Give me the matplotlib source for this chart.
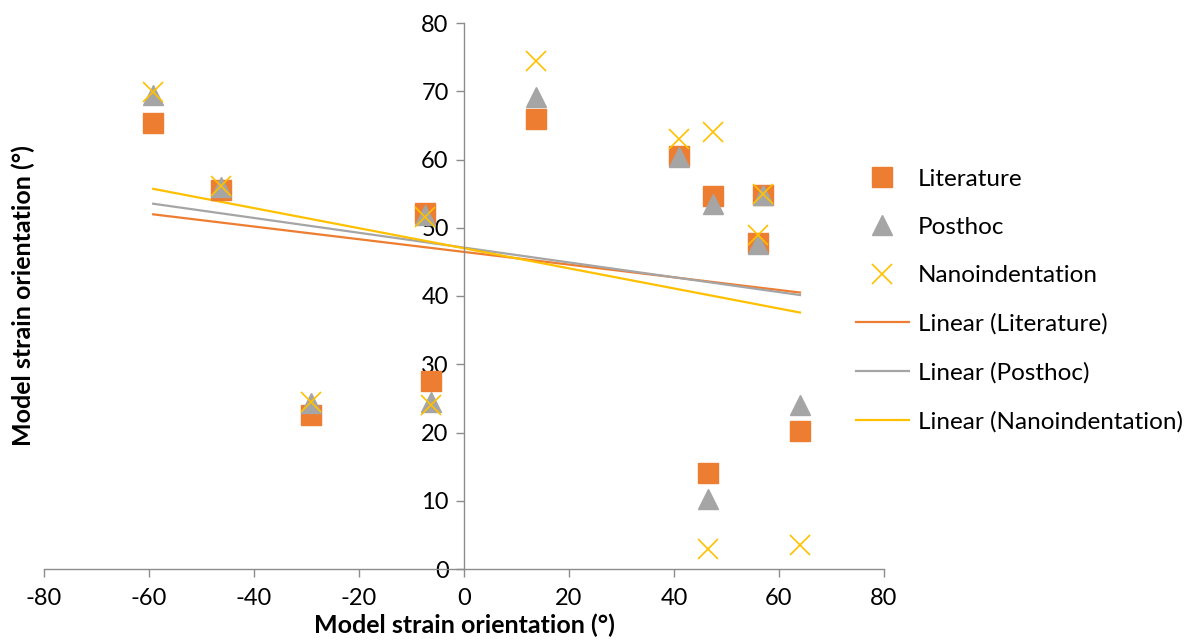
import numpy as np
import matplotlib
matplotlib.use("Agg")
from matplotlib import pyplot as plt

# strain orientation for each sample (shared by all three series)
model_x = [-59.2, -46.2, -29.1, -7.4, -6.3, 13.8, 41.0, 47.4, 57.0, 56.0, 46.5, 64.0]
literature = [65.3, 55.5, 22.6, 52.2, 27.5, 66.0, 60.5, 54.6, 54.8, 47.7, 14.1, 20.2]
posthoc = [69.5, 56.0, 24.3, 51.9, 24.4, 69.1, 60.4, 53.5, 54.8, 47.6, 10.3, 24.0]
nano = [69.9, 56.1, 24.4, 51.6, 24.0, 74.4, 63.0, 64.0, 54.9, 49.0, 3.0, 3.5]

x_ticks = [-80, -60, -40, -20, 0, 20, 40, 60, 80]
y_ticks = [0, 10, 20, 30, 40, 50, 60, 70, 80]

ORANGE = '#ED7D31'
GREY = '#A5A5A5'
GOLD = '#FFC000'
AXIS = '#8C8C8C'

plt.rcParams['font.family'] = ['Lato', 'DejaVu Sans']
plt.rcParams['axes.unicode_minus'] = False

fig = plt.figure(figsize=(12.02, 6.41), dpi=100)
ax = fig.add_axes([44 / 1202, 1 - 569 / 641, 840 / 1202, 546 / 641])

series = [
    ('Literature', literature, 's', ORANGE, {}),
    ('Posthoc', posthoc, '^', GREY, {}),
    ('Nanoindentation', nano, 'x', GOLD, {'markeredgewidth': 1.2}),
]

xs = np.array(model_x)
marks, trends = [], []
for name, ys, mk, col, extra in series:
    h, = ax.plot(xs, ys, linestyle='none', marker=mk, markersize=14, color=col,
                 markeredgecolor=col, label=name, zorder=3, **extra)
    marks.append(h)

# least squares trend line per series, spanning the data range
for name, ys, mk, col, extra in series:
    k, b = np.polyfit(xs, ys, 1)
    tx = np.array([xs.min(), xs.max()])
    h, = ax.plot(tx, k * tx + b, color=col, linewidth=1.6, zorder=2,
                 label='Linear (%s)' % name)
    trends.append(h)

ax.set_xlim(-80, 80)
ax.set_ylim(0, 80)
ax.set_xticks(x_ticks)
ax.set_yticks(y_ticks)

ax.spines['left'].set_position(('data', 0))
ax.spines['right'].set_visible(False)
ax.spines['top'].set_visible(False)
for s in ('left', 'bottom'):
    ax.spines[s].set_color(AXIS)
    ax.spines[s].set_linewidth(1.0)

ax.tick_params(axis='x', direction='out', length=6, width=1, color=AXIS,
               labelsize=17, pad=8)
ax.tick_params(axis='y', direction='out', length=6, width=1, color=AXIS,
               labelsize=17, pad=5)

ax.set_xlabel('Model strain orientation (°)', fontsize=18, fontweight='bold', labelpad=3)
ax.set_ylabel('Model strain orientation (°)', fontsize=18, fontweight='bold')
ax.yaxis.set_label_coords(-0.011, 0.5)

fig.legend(handles=marks + trends, loc='upper left',
           bbox_to_anchor=(846 / 1202, 1 - 159 / 641), frameon=False,
           fontsize=17.5, labelspacing=1.12, handlelength=2.2, handletextpad=0.35,
           borderaxespad=0)

fig.savefig('out.png', dpi=100)
